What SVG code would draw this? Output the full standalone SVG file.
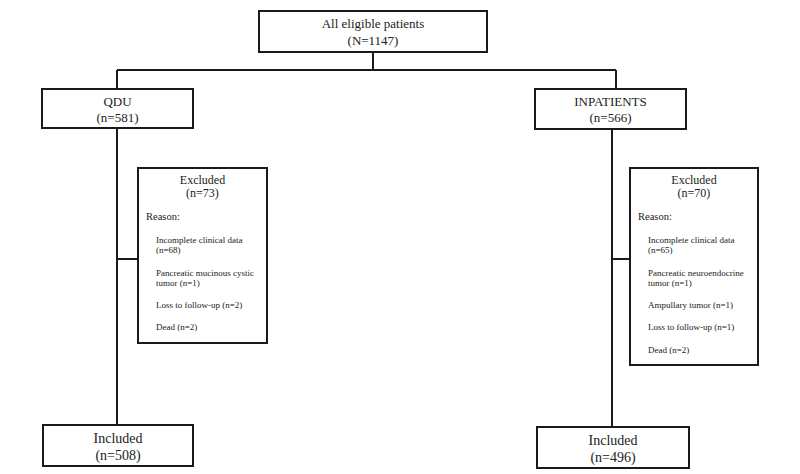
<svg xmlns="http://www.w3.org/2000/svg" width="800" height="474" viewBox="0 0 800 474">
<style>
.box{fill:#fff;stroke:#1a1a1a;stroke-width:2}
.ln{fill:none;stroke:#1a1a1a;stroke-width:2}
text{font-family:"Liberation Serif","Times New Roman",serif;fill:#222}
.t13{font-size:13px;text-anchor:middle}
.t14{font-size:14px;text-anchor:middle}
.t12{font-size:12px;text-anchor:middle}
.r{font-size:10.5px}
.i{font-size:9px}
</style>
<rect width="800" height="474" fill="#fff"/>
<g id="connectors">
<path class="ln" d="M373 52V70M117 70H616M117 70V89M616 70V89"/>
<path class="ln" d="M117 128V425M117 259H138"/>
<path class="ln" d="M612 129V427M612 259H630"/>
</g>
<g id="all">
<rect class="box" x="259" y="11" width="228" height="41"/>
<text class="t13" x="373" y="28">All eligible patients</text>
<text class="t13" x="373" y="45">(N=1147)</text>
</g>
<g id="qdu">
<rect class="box" x="42" y="89" width="151" height="39"/>
<text class="t13" x="117.5" y="106">QDU</text>
<text class="t13" x="117.5" y="122">(n=581)</text>
</g>
<g id="inpatients">
<rect class="box" x="535" y="89" width="151" height="40"/>
<text class="t13" x="610.5" y="106">INPATIENTS</text>
<text class="t13" x="610.5" y="122">(n=566)</text>
</g>
<g id="excluded-qdu">
<rect class="box" x="138" y="168" width="129" height="175"/>
<text class="t12" x="202.5" y="184">Excluded</text>
<text class="t12" x="202.5" y="197">(n=73)</text>
<text class="r" x="146" y="220">Reason:</text>
<text class="i" x="156" y="243">Incomplete clinical data</text>
<text class="i" x="156" y="253">(n=68)</text>
<text class="i" x="156" y="276">Pancreatic mucinous cystic</text>
<text class="i" x="156" y="286">tumor (n=1)</text>
<text class="i" x="156" y="308">Loss to follow-up (n=2)</text>
<text class="i" x="156" y="330">Dead (n=2)</text>
</g>
<g id="excluded-inpatients">
<rect class="box" x="630" y="168" width="128" height="197"/>
<text class="t12" x="694" y="184">Excluded</text>
<text class="t12" x="694" y="197">(n=70)</text>
<text class="r" x="638" y="220">Reason:</text>
<text class="i" x="648" y="243">Incomplete clinical data</text>
<text class="i" x="648" y="253">(n=65)</text>
<text class="i" x="648" y="276">Pancreatic neuroendocrine</text>
<text class="i" x="648" y="286">tumor (n=1)</text>
<text class="i" x="648" y="308">Ampullary tumor (n=1)</text>
<text class="i" x="648" y="330">Loss to follow-up (n=1)</text>
<text class="i" x="648" y="353">Dead (n=2)</text>
</g>
<g id="included-qdu">
<rect class="box" x="43" y="425" width="150" height="41"/>
<text class="t14" x="118" y="443">Included</text>
<text class="t14" x="118" y="460">(n=508)</text>
</g>
<g id="included-inpatients">
<rect class="box" x="537" y="427" width="152" height="41"/>
<text class="t14" x="613" y="445">Included</text>
<text class="t14" x="613" y="462">(n=496)</text>
</g>
</svg>
